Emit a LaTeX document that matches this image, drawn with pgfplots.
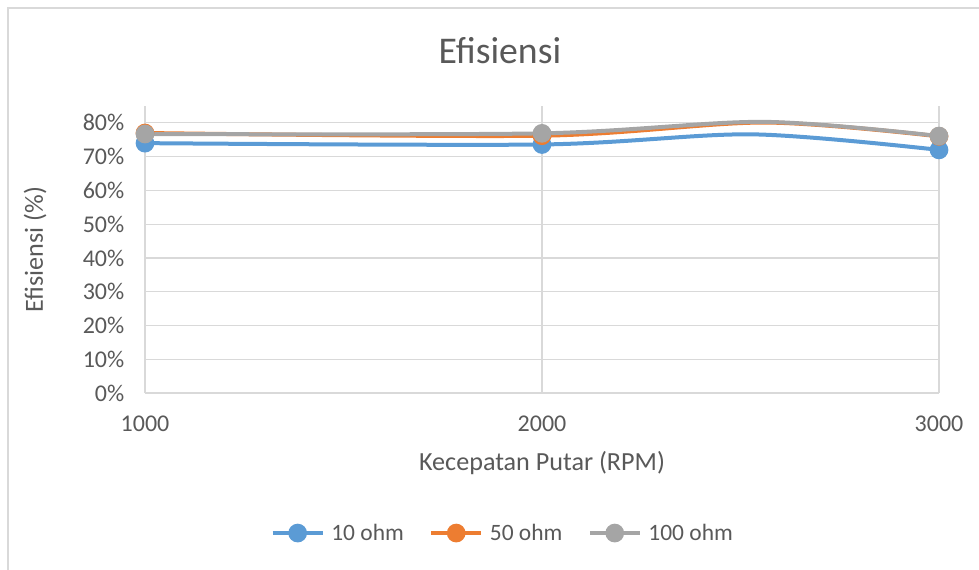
\documentclass[border=0pt]{standalone}
\usepackage{pgfplots}
\pgfplotsset{compat=1.18}
\usepackage{fontspec}
\setmainfont{Carlito}

\definecolor{s1}{HTML}{5B9BD5}
\definecolor{s2}{HTML}{ED7D31}
\definecolor{s3}{HTML}{A5A5A5}
\definecolor{txt}{HTML}{595959}
\definecolor{grd}{HTML}{D9D9D9}

% efficiency (%) against rotation speed (RPM); the third row of each
% series is the crest of the smoothed curve, drawn without a marker
\pgfplotstableread{
rpm eff
1000 74.0
2000 73.6
2530 76.6
3000 72.0
}\tenohm
\pgfplotstableread{
rpm eff
1000 77.0
2000 76.2
2560 80.1
3000 76.0
}\fiftyohm
\pgfplotstableread{
rpm eff
1000 76.7
2000 76.9
2557 80.3
3000 76.1
}\hundredohm

\begin{document}
\begin{tikzpicture}
% canvas and chart frame (1 px = 0.75 pt)
\useasboundingbox (0,0) rectangle (734.25pt,427.5pt);
\draw[grd,line width=0.9pt] (6pt,0pt) -- (6pt,421.5pt) -- (734.25pt,421.5pt);

\begin{axis}[
  at={(108.75pt,132.75pt)}, anchor=south west,
  scale only axis, width=595.5pt, height=215.25pt,
  xmin=1000, xmax=3000, ymin=0, ymax=85,
  xtick={1000,2000,3000}, ytick={0,10,...,80},
  yticklabel={\pgfmathprintnumber{\tick}\%},
  /pgf/number format/assume math mode=true,
  /pgf/number format/set thousands separator={},
  major tick length=0pt,
  axis x line*=bottom, axis y line*=left,
  axis line style={grd,line width=0.9pt},
  grid=major, grid style={grd,line width=0.9pt},
  tick label style={font=\fontsize{18}{21}\selectfont,text=txt},
  xticklabel style={yshift=-14pt},
  yticklabel style={xshift=-12pt},
  title={Efisiensi},
  title style={at={(axis description cs:0.447,1.166)},anchor=center,
    font=\fontsize{28.3}{33}\selectfont,text=txt},
  xlabel={Kecepatan Putar (RPM)},
  xlabel style={at={(axis description cs:0.5,-0.244)},anchor=center,
    font=\fontsize{19.6}{23}\selectfont,text=txt},
  ylabel={Efisiensi (\%)},
  ylabel style={at={(axis description cs:-0.1385,0.5)},anchor=center,
    font=\fontsize{19.6}{23}\selectfont,text=txt},
  legend style={at={(axis description cs:0.451,-0.488)},anchor=center,
    draw=none,fill=none,font=\fontsize{17.6}{21}\selectfont,text=txt,
    /tikz/every even column/.append style={column sep=17pt}},
  legend columns=3,
  legend image code/.code={
    \draw[#1,mark=none,line width=3pt] (0pt,0pt) -- (37.5pt,0pt);
    \fill[#1] (18.75pt,0pt) circle (5.5pt);
    \path (40.5pt,0pt);},
  every axis plot/.append style={smooth,line width=3pt,mark=*,
    mark size=5.5pt,mark indices={1,2,4}},
]
\addplot[color=s1,mark options={fill=s1,draw=s1}] table[x=rpm,y=eff] {\tenohm};
\addlegendentry{10 ohm}
\addplot[color=s2,mark options={fill=s2,draw=s2}] table[x=rpm,y=eff] {\fiftyohm};
\addlegendentry{50 ohm}
\addplot[color=s3,mark options={fill=s3,draw=s3}] table[x=rpm,y=eff] {\hundredohm};
\addlegendentry{100 ohm}
\end{axis}
\end{tikzpicture}
\end{document}
